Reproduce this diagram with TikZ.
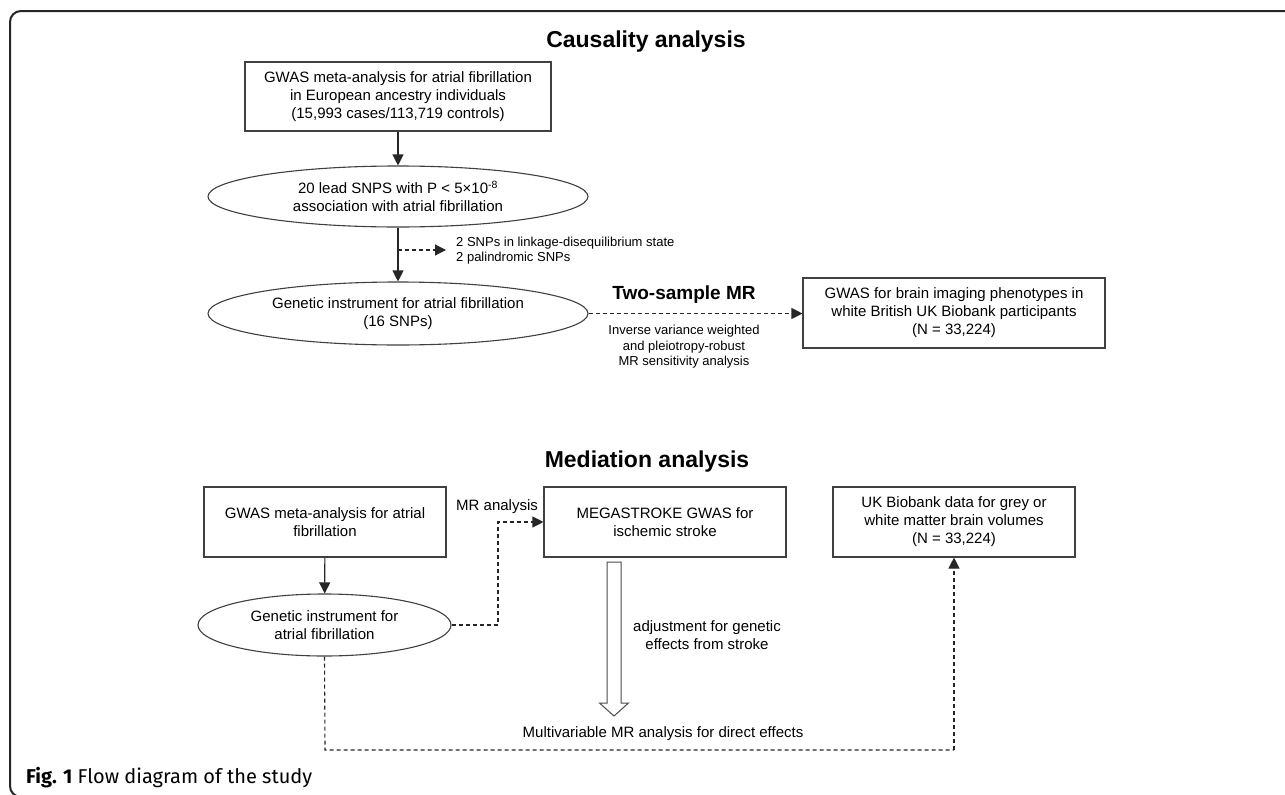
\documentclass[tikz,border=0pt]{standalone}
\usepackage{fontspec}
\setmainfont{Liberation Sans}
\newfontfamily\capfont{Fira Sans}
\usetikzlibrary{shapes.geometric,arrows.meta}
\begin{document}
\begin{tikzpicture}[x=1pt,y=-1pt,
  boxn/.style={draw=black!75, line width=1.1pt, fill=white, inner sep=0pt, align=center, font=\fontsize{15}{18}\selectfont},
  elln/.style={boxn, ellipse},
  arr/.style={draw=black!85, line width=1.1pt, -{Triangle[length=11pt,width=11pt]}},
  darr/.style={arr, dash pattern=on 4pt off 3pt},
  dline/.style={draw=black!85, line width=1.1pt, dash pattern=on 4pt off 3pt},
  lbl/.style={inner sep=0pt, align=center, font=\fontsize{15}{18}\selectfont},
  smalltxt/.style={inner sep=0pt, align=left, font=\fontsize{13}{15.5}\selectfont},
  ttl/.style={inner sep=0pt, font=\bfseries\fontsize{23}{27}\selectfont},
]
\useasboundingbox (0,0) rectangle (1285,795);
\fill[white] (0,0) rectangle (1285,795);
% frame
\draw[line width=2pt, black!85, rounded corners=11pt] (1300,11) -- (10,11) -- (10,797) -- (1300,797);

% ---------- Causality analysis ----------
\node[ttl] (t1) at (646,42) {Causality analysis};
\node[boxn, minimum width=306pt, minimum height=69pt] (b1) at (398,96.5)
  {GWAS meta-analysis for atrial fibrillation\\in European ancestry individuals\\(15,993 cases/113,719 controls)};
\node[elln, minimum width=380pt, minimum height=61pt] (e1) at (398,196.5)
  {20 lead SNPS with P < 5×10\textsuperscript{-8}\\association with atrial fibrillation};
\node[elln, minimum width=380pt, minimum height=63pt] (e2) at (398,313.5)
  {Genetic instrument for atrial fibrillation\\(16 SNPs)};
\node[boxn, minimum width=302pt, minimum height=70pt] (b3) at (954,313)
  {GWAS for brain imaging phenotypes in\\white British UK Biobank participants\\(N = 33,224)};

\draw[arr] (b1) -- (e1);
\draw[arr] (e1) -- (e2);
\coordinate (sa) at (398,250);
\coordinate (sb) at (446,250);
\draw[darr] (sa) -- (sb);
\node[smalltxt, anchor=west] (snp) at (456,250.5)
  {2 SNPs in linkage-disequilibrium state\\2 palindromic SNPs};

\draw[darr] (e2.east) -- (e2.east -| b3.west);
\node[inner sep=0pt, font=\bfseries\fontsize{19}{22}\selectfont] (tsmr) at (684,295) {Two-sample MR};
\node[smalltxt, align=center] (ivw) at (684,347)
  {Inverse variance weighted\\and pleiotropy-robust\\MR sensitivity analysis};

% ---------- Mediation analysis ----------
\node[ttl] (t2) at (647,462) {Mediation analysis};
\node[boxn, minimum width=242pt, minimum height=70pt] (m1) at (325,522)
  {GWAS meta-analysis for atrial\\fibrillation};
\node[elln, minimum width=253pt, minimum height=62pt] (me) at (324.5,625)
  {Genetic instrument for\\atrial fibrillation};
\node[boxn, minimum width=242pt, minimum height=70pt] (mega) at (665,522)
  {MEGASTROKE GWAS for\\ischemic stroke};
\node[boxn, minimum width=242pt, minimum height=70pt] (uk) at (954,522)
  {UK Biobank data for grey or\\white matter brain volumes\\(N = 33,224)};

\draw[arr] (m1) -- (me);
\coordinate (mr1) at (498,625);
\draw[darr] (me.east) -- (mr1) |- (mega.west);
\node[lbl, anchor=west] (mrlab) at (456,507) {MR analysis};

% block arrow
\draw[draw=black!70, line width=1pt, fill=white]
  (607,562) -- (621,562) -- (621,703) -- (628.5,703) -- (614,716) -- (599.5,703) -- (607,703) -- cycle;
\node[lbl] (adj) at (707,635.5) {adjustment for genetic\\effects from stroke};
\node[lbl] (mv) at (663,734) {Multivariable MR analysis for direct effects};

\coordinate (d1) at (325,750);
\coordinate (d2) at (954,750);
\draw[dline] (me.south) -- (d1) -- (d2);
\draw[darr] (d2) -- (uk.south);

% caption
\node[inner sep=0pt, anchor=west, font=\capfont\fontsize{20}{23}\selectfont] (cap) at (26,778)
  {\textbf{Fig. 1} Flow diagram of the study};
\end{tikzpicture}
\end{document}
